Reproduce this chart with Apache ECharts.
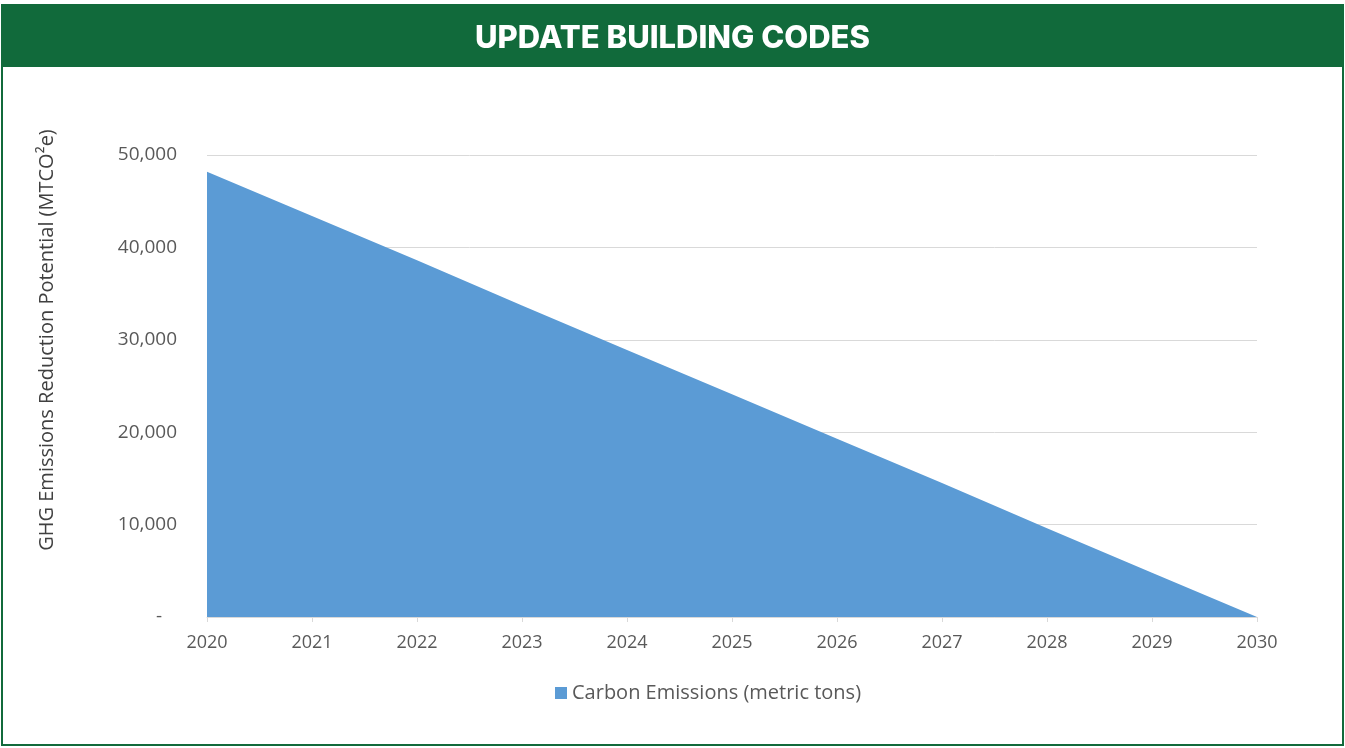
<!DOCTYPE html>
<html>
<head>
<meta charset="utf-8">
<script src="https://cdn.jsdelivr.net/npm/echarts@6/dist/echarts.min.js"></script>
<style>
html,body{margin:0;padding:0;background:#fff;}
#chart{width:1345px;height:748px;}
</style>
</head>
<body>
<div id="chart"></div>
<script>
const titleText = 'UPDATE BUILDING CODES';
const yAxisName = 'GHG Emissions Reduction Potential (MTCO²e)';
const seriesName = 'Carbon Emissions (metric tons)';
const years = ['2020','2021','2022','2023','2024','2025','2026','2027','2028','2029','2030'];
const emissions = [48200, 43400, 38600, 33700, 28900, 24100, 19300, 14500, 9600, 4800, 0];

const green = '#116a3b';
const font = '"Open Sans", sans-serif';
const chart = echarts.init(document.getElementById('chart'), null, {renderer:'canvas'});
chart.setOption({
  backgroundColor: '#ffffff',
  animation: false,
  graphic: [
    {type:'rect', z:-1, shape:{x:2, y:5, width:1341, height:740}, style:{fill:'#fff', stroke:green, lineWidth:2}},
    {type:'rect', z:0, shape:{x:2, y:5, width:1341, height:62}, style:{fill:green}},
    {type:'text', x:47, y:340, rotation:Math.PI/2,
      style:{text:yAxisName, fill:'#404040', font:'20px "Open Sans", sans-serif', align:'center', verticalAlign:'middle'}}
  ],
  title: {
    text: titleText,
    left: 'center',
    top: 18,
    textStyle: {color:'#ffffff', fontSize:31, fontWeight:800, fontFamily:'Inter, Lato, sans-serif'}
  },
  grid: {left:207, right:88, top:155, bottom:131, containLabel:false},
  legend: {
    bottom: 40,
    left: 550,
    icon: 'rect',
    itemWidth: 12,
    itemHeight: 12,
    itemGap: 6,
    textStyle: {color:'#595959', fontSize:20, fontFamily:font},
    data: [seriesName]
  },
  xAxis: {
    type: 'category',
    data: years,
    boundaryGap: false,
    axisLine: {show:true, lineStyle:{color:'#d9d9d9', width:1}},
    axisTick: {show:true, alignWithLabel:true, length:5, lineStyle:{color:'#d9d9d9'}},
    axisLabel: {color:'#595959', fontSize:18, margin:17, fontFamily:font}
  },
  yAxis: {
    type: 'value',
    min: 0,
    max: 50000,
    interval: 10000,
    axisLine: {show:false},
    axisTick: {show:false},
    splitLine: {lineStyle:{color:'#d9d9d9', width:1}},
    axisLabel: {
      color:'#595959', fontSize:19, margin:30, fontFamily:font,
      formatter: v => v === 0 ? '-   ' : v.toLocaleString('en-US')
    }
  },
  series: [{
    name: seriesName,
    type: 'line',
    data: emissions,
    symbol: 'none',
    lineStyle: {width:0, color:'#5b9bd5'},
    itemStyle: {color:'#5b9bd5'},
    areaStyle: {color:'#5b9bd5', opacity:1}
  }]
});
</script>
</body>
</html>
